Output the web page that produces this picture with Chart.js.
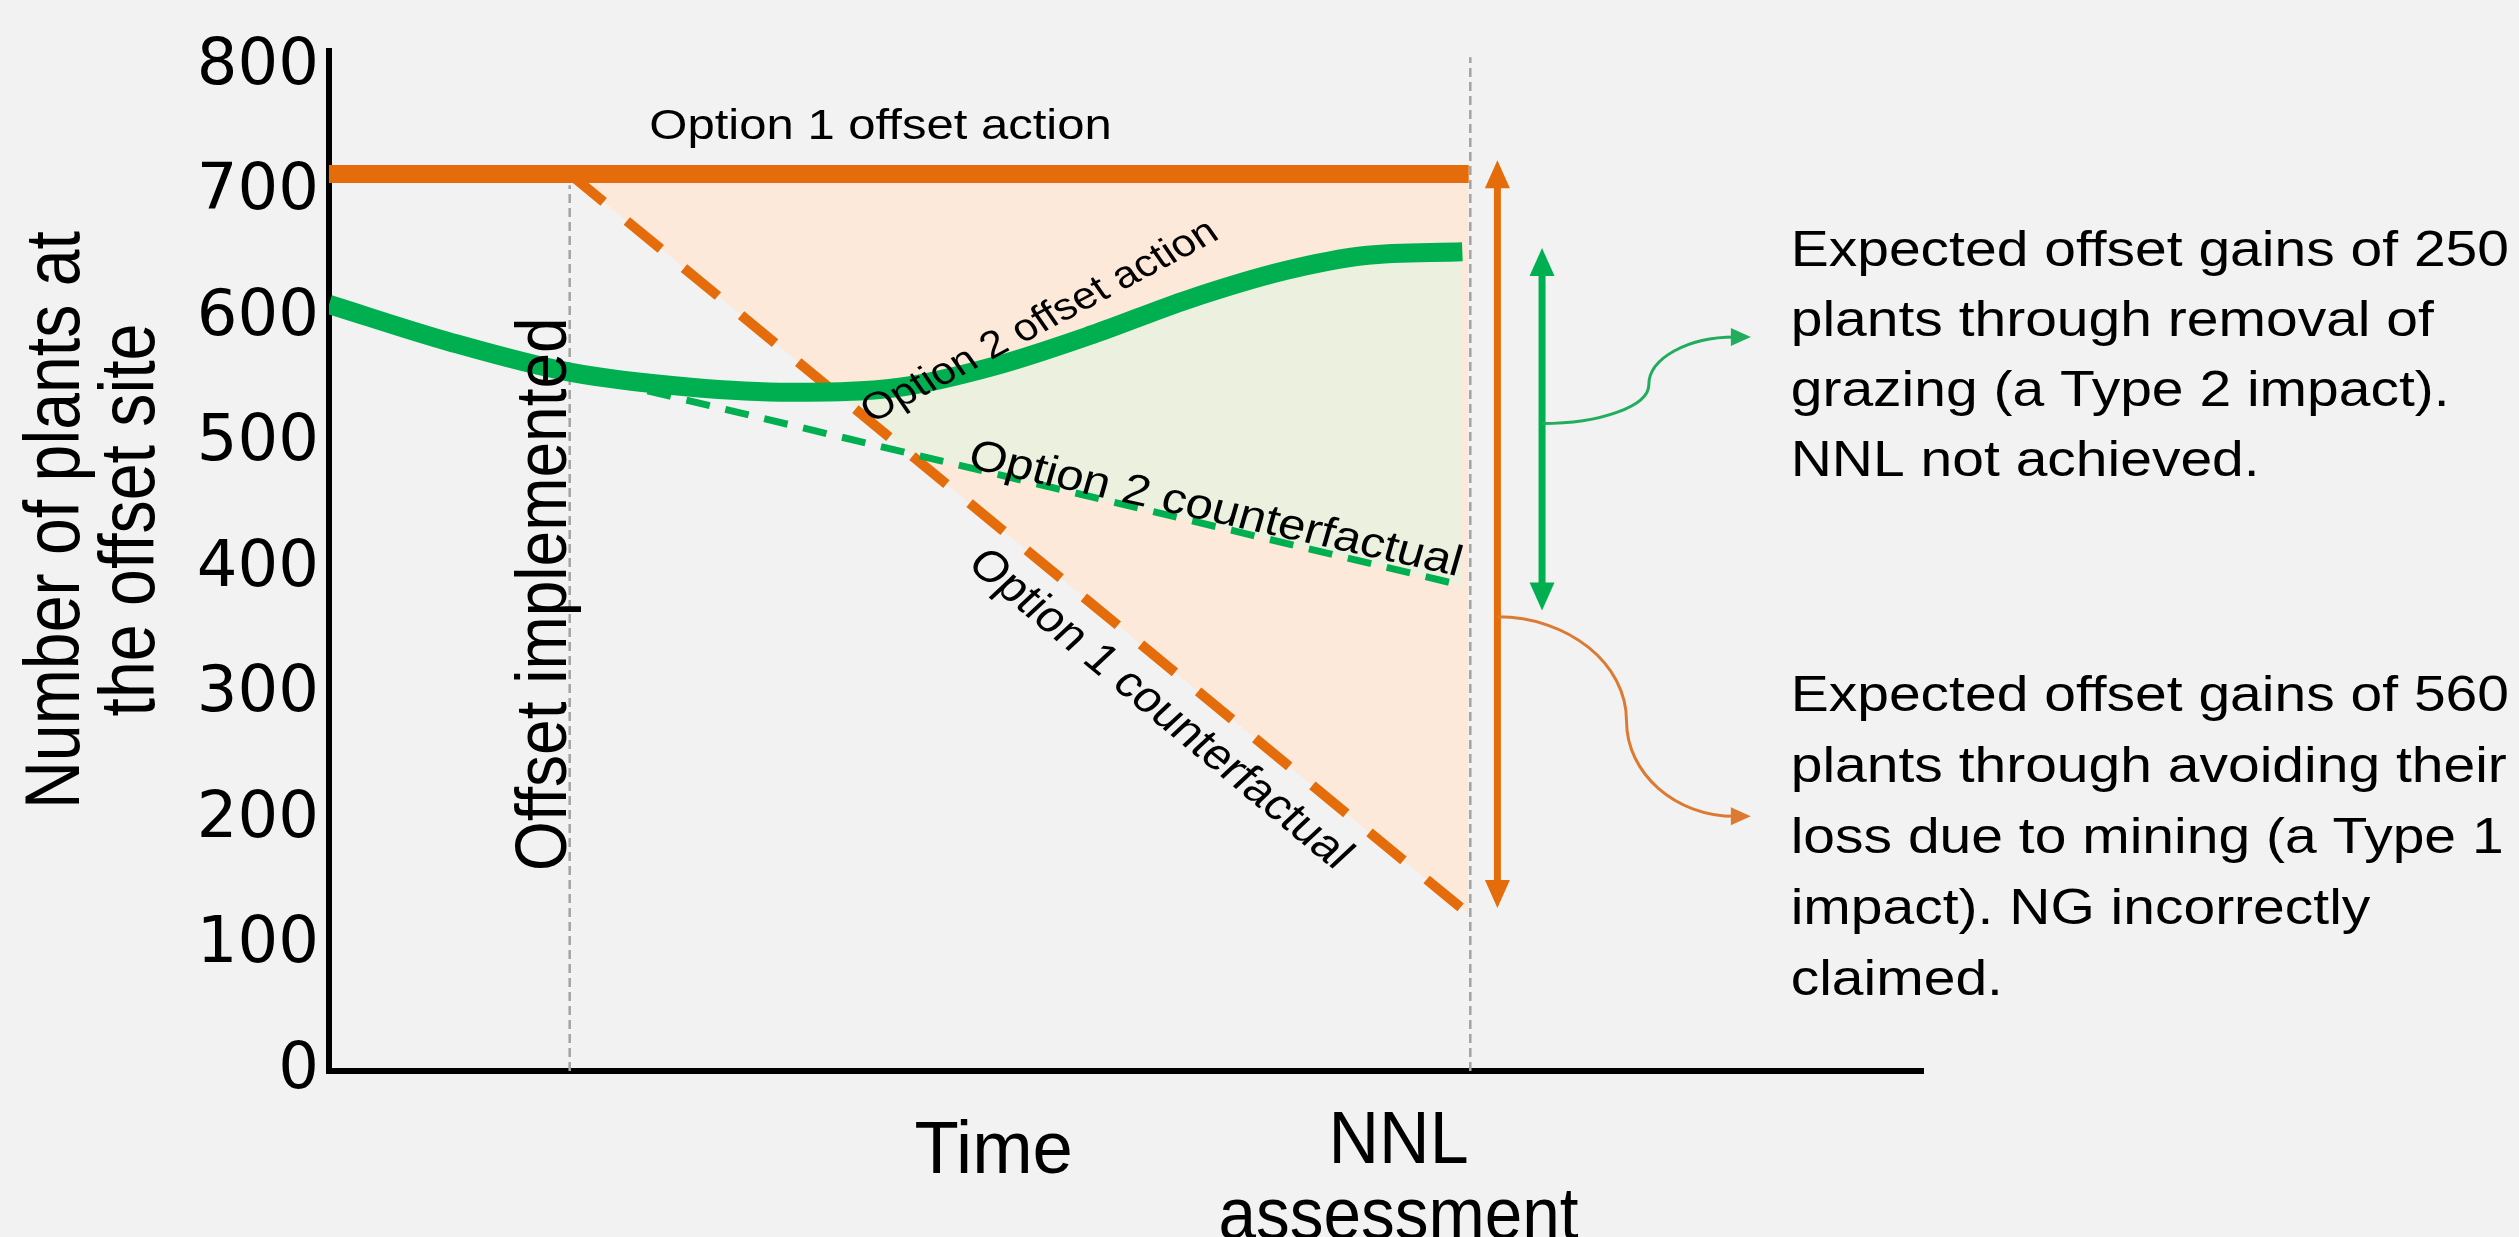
<!DOCTYPE html>
<html>
<head>
<meta charset="utf-8">
<title>Expected offset gains under two counterfactuals</title>
<script src="https://cdn.jsdelivr.net/npm/chart.js@4.4.1/dist/chart.umd.min.js"></script>
<style>
  html, body { margin: 0; padding: 0; background: #f2f2f2; overflow: hidden; }
  #wrap { position: relative; width: 2519px; height: 1237px; }
</style>
</head>
<body>
<div id="wrap"><canvas id="chart"></canvas></div>
<script>
// values: x is time (0-100, no units), y is number of plants
const yTickValues = [0, 100, 200, 300, 400, 500, 600, 700, 800];

const option1ActionTime = [0, 15.1, 71.5];
const option1Action = [715, 715, 715];
const option1CfTime = [15.1, 71.5];
const option1Counterfactual = [715, 125];

const option2ActionTime = [0, 7.6, 15.1, 22.7, 29, 35.8, 41.8, 47.9, 53.9, 60, 65, 71.1];
const option2Action = [611, 581, 557, 545, 541, 545, 562, 587, 615, 638, 650, 653];
const option2CfTime = [15.1, 71.1];
const option2Counterfactual = [557, 387];

const markerTime = [15.1, 71.6];   // offset implemented, NNL assessment
const markerTop = [706, 808];

// expected gains (option 1, option 2)
const gainTime = [73.3, 76.1];
const gainLow = [130, 367];
const gainHigh = [726, 656];

// curved call-outs from the gain arrows to the notes
const link1Time = [73.3, 81.4, 89.2];
const link1Value = [362, 279, 203];
const link2Time = [76.1, 82.8, 89.2];
const link2Value = [516, 547, 585];

const yTitle = ['Number of plants at', 'the offset site'];
const note2 = ['Expected offset gains of 250', 'plants through removal of',
  'grazing (a Type 2 impact).', 'NNL not achieved.'];
const note1 = ['Expected offset gains of 560', 'plants through avoiding their',
  'loss due to mining (a Type 1', 'impact). NG incorrectly', 'claimed.'];

const ORANGE = '#E46C0A';
const GREEN = '#00B050';
const PEACH = '#FDE9D9';
const PALE_GREEN = '#EBF1DE';
const GREY = '#A3A3A3';
const NONE = 'rgba(0,0,0,0)';
const FONT = '"Liberation Sans", Arial, sans-serif';
const STRETCH = 1.14; // the source figure is widened a bit horizontally

const pts = (xs, ys) => xs.map((t, i) => ({ x: t, y: ys[i] }));

// text drawn as if the whole figure were widened by STRETCH
function label(ctx, text, x, y, o) {
  const a = (o.angle || 0) * Math.PI / 180;
  ctx.save();
  ctx.translate(x, y);
  ctx.scale(STRETCH, 1);
  ctx.rotate(Math.atan2(STRETCH * Math.sin(a), Math.cos(a)));
  ctx.scale(o.narrow || 1, 1);
  ctx.font = o.size + 'px ' + FONT;
  ctx.fillStyle = '#000';
  ctx.textAlign = o.align || 'center';
  ctx.textBaseline = o.baseline || 'alphabetic';
  ctx.fillText(text, 0, 0);
  ctx.restore();
}

function head(ctx, x, y, angle, len, half, color) {
  ctx.save();
  ctx.translate(x, y);
  ctx.rotate(angle);
  ctx.beginPath();
  ctx.moveTo(0, 0);
  ctx.lineTo(-len, -half);
  ctx.lineTo(-len, half);
  ctx.closePath();
  ctx.fillStyle = color;
  ctx.fill();
  ctx.restore();
}

const figureNotes = {
  id: 'figureNotes',
  afterDatasetsDraw(chart) {
    const { ctx, chartArea: area, scales: { x, y } } = chart;
    const colors = [ORANGE, GREEN];

    // double headed arrows for the expected gains
    gainTime.forEach((t, i) => {
      const px = x.getPixelForValue(t);
      const top = y.getPixelForValue(gainHigh[i]);
      const bot = y.getPixelForValue(gainLow[i]);
      ctx.save();
      ctx.strokeStyle = colors[i];
      ctx.lineWidth = 7;
      ctx.beginPath();
      ctx.moveTo(px, top + 20);
      ctx.lineTo(px, bot - 20);
      ctx.stroke();
      ctx.restore();
      head(ctx, px, top, -Math.PI / 2, 28, 12.5, colors[i]);
      head(ctx, px, bot, Math.PI / 2, 28, 12.5, colors[i]);
    });

    // s-shaped call-outs
    [[link1Time, link1Value, '#DD7A32'], [link2Time, link2Value, '#22AD5C']].forEach(([ts, vs, c]) => {
      const p = ts.map((t, i) => [x.getPixelForValue(t), y.getPixelForValue(vs[i])]);
      const k = 0.55;
      const endX = p[2][0] - 16;
      ctx.save();
      ctx.strokeStyle = c;
      ctx.lineWidth = 3;
      ctx.beginPath();
      ctx.moveTo(p[0][0], p[0][1]);
      ctx.bezierCurveTo(p[0][0] + k * (p[1][0] - p[0][0]), p[0][1],
        p[1][0], p[1][1] - k * (p[1][1] - p[0][1]), p[1][0], p[1][1]);
      ctx.bezierCurveTo(p[1][0], p[1][1] + k * (p[2][1] - p[1][1]),
        endX - k * (endX - p[1][0]), p[2][1], endX, p[2][1]);
      ctx.stroke();
      ctx.restore();
      head(ctx, p[2][0], p[2][1], 0, 20, 9, c);
    });

    // labels inside the plot
    label(ctx, 'Option 1 offset action', x.getPixelForValue(34.6), y.getPixelForValue(752),
      { size: 43, baseline: 'middle' });
    label(ctx, 'Option 2 offset action', x.getPixelForValue(44.6), y.getPixelForValue(597),
      { size: 38, baseline: 'middle', angle: -28 });
    label(ctx, 'Option 2 counterfactual', x.getPixelForValue(55.6), y.getPixelForValue(447),
      { size: 43, baseline: 'middle', angle: 12.5 });
    label(ctx, 'Option 1 counterfactual', x.getPixelForValue(52.1), y.getPixelForValue(288),
      { size: 43, baseline: 'middle', angle: 39.5 });
    label(ctx, 'Offset implemented', x.getPixelForValue(markerTime[0]) - 4, y.getPixelForValue(380),
      { size: 64, angle: -90 });

    // axis titles
    const midY = (area.top + area.bottom) / 2 - 41;
    label(ctx, yTitle[0], area.left - 250, midY, { size: 69, angle: -90, narrow: 0.96 });
    label(ctx, yTitle[1], area.left - 175, midY, { size: 69, angle: -90, narrow: 0.96 });
    label(ctx, 'Time', x.getPixelForValue(41.7), area.bottom + 102, { size: 74, narrow: 0.86 });
    label(ctx, 'NNL', x.getPixelForValue(67.1), area.bottom + 92, { size: 74, narrow: 0.83 });
    label(ctx, 'assessment', x.getPixelForValue(67.1), area.bottom + 168, { size: 74, narrow: 0.8 });

    // notes on the right
    const left = x.getPixelForValue(91.7);
    note2.forEach((t, i) => label(ctx, t, left, y.getPixelForValue(642) + i * 70, { size: 50, align: 'left' }));
    note1.forEach((t, i) => label(ctx, t, left, y.getPixelForValue(287) + i * 71, { size: 50, align: 'left' }));
  }
};

new Chart(document.getElementById('chart'), {
  type: 'line',
  data: {
    datasets: [
      {
        label: 'Option 2 counterfactual',
        data: pts(option2CfTime, option2Counterfactual),
        borderColor: GREEN, borderWidth: 7, borderDash: [24, 16],
        fill: { target: 3, above: PEACH, below: NONE }
      },
      {
        label: 'Option 2 offset action',
        data: pts(option2ActionTime, option2Action),
        borderColor: GREEN, borderWidth: 19, cubicInterpolationMode: 'monotone',
        fill: { target: 3, above: PALE_GREEN, below: NONE }
      },
      {
        label: 'Option 1 offset action',
        data: pts(option1ActionTime, option1Action),
        borderColor: ORANGE, borderWidth: 18,
        fill: { target: 3, above: PEACH, below: NONE }
      },
      {
        label: 'Option 1 counterfactual',
        data: pts(option1CfTime, option1Counterfactual),
        borderColor: ORANGE, borderWidth: 10, borderDash: [44, 30], fill: false
      },
      {
        label: 'Offset implemented',
        data: [{ x: markerTime[0], y: 0 }, { x: markerTime[0], y: markerTop[0] }],
        borderColor: GREY, borderWidth: 2.5, borderDash: [9, 5], fill: false
      },
      {
        label: 'NNL assessment',
        data: [{ x: markerTime[1], y: 0 }, { x: markerTime[1], y: markerTop[1] }],
        borderColor: GREY, borderWidth: 2.5, borderDash: [9, 5], fill: false
      }
    ]
  },
  options: {
    responsive: true,
    maintainAspectRatio: false,
    devicePixelRatio: 1,
    animation: false,
    elements: { point: { radius: 0, hoverRadius: 0 }, line: { borderCapStyle: 'butt' } },
    layout: { padding: { top: 51, right: 596, left: 0, bottom: 0 } },
    plugins: {
      legend: { display: false },
      tooltip: { enabled: false },
      filler: { drawTime: 'beforeDatasetsDraw' }
    },
    scales: {
      x: {
        type: 'linear', min: 0, max: 100,
        afterFit: s => { s.height = 166; },
        grid: { display: false, drawTicks: false },
        border: { display: true, color: '#000', width: 6 },
        ticks: { display: false }
      },
      y: {
        type: 'linear', min: 0, max: 813,
        afterBuildTicks: s => { s.ticks = yTickValues.map(v => ({ value: v })); },
        afterFit: s => { s.width = 329; },
        grid: { display: false, drawTicks: false },
        border: { display: true, color: '#000', width: 6 },
        ticks: { color: '#000', padding: 10, font: { family: 'DejaVu Sans', size: 64 }, callback: v => String(v) }
      }
    }
  },
  plugins: [figureNotes]
});
</script>
</body>
</html>
